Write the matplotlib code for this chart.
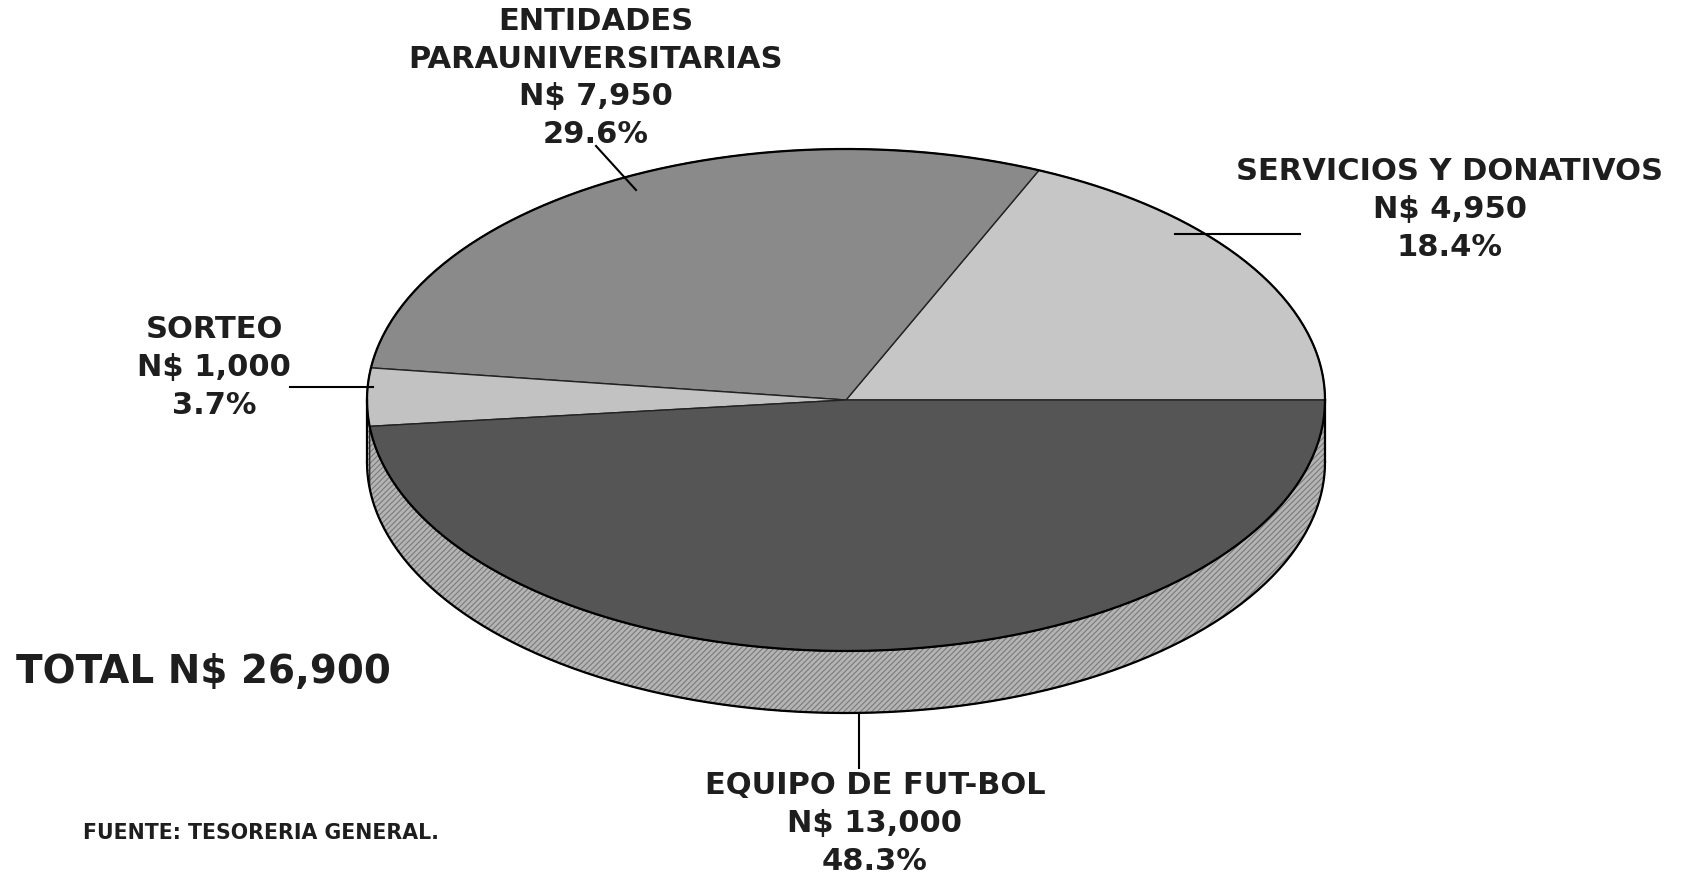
import numpy as np
import matplotlib
matplotlib.use("Agg")
import matplotlib.pyplot as plt
from matplotlib.patches import Polygon

# data
labels = ["SERVICIOS Y DONATIVOS", "ENTIDADES\nPARAUNIVERSITARIAS", "SORTEO", "EQUIPO DE FUT-BOL"]
amounts = [4950, 7950, 1000, 13000]
pcts = [18.4, 29.6, 3.7, 48.3]
total = 26900

top_colors = ["#c6c6c6", "#8a8a8a", "#c2c2c2", "#555555"]
side_colors = ["#b4b4b4", "#b4b4b4", "#c0c0c0", "#b4b4b4"]

plt.rcParams['font.family'] = ['DejaVu Sans']
plt.rcParams['hatch.linewidth'] = 0.8

fig = plt.figure(figsize=(17.06, 8.74), dpi=100)
ax = fig.add_axes([0, 0, 1, 1])
ax.set_xlim(0, 1706)
ax.set_ylim(874, 0)
ax.axis('off')

# pie geometry (pixel layout)
cx, cy, a, b, depth = 846, 400, 479, 251, 62

def pt(t, dy=0):
    r = np.radians(t)
    return cx + a * np.cos(r), cy - b * np.sin(r) + dy

fracs = np.array(amounts) / sum(amounts)
bounds = np.concatenate([[0], np.cumsum(fracs) * 360])

# side wall (front half only: 180..360 degrees)
for i in range(len(amounts)):
    t0, t1 = max(bounds[i], 180), min(bounds[i + 1], 360)
    if t1 <= t0:
        continue
    ts = np.linspace(t0, t1, 100)
    upper = [pt(t) for t in ts]
    lower = [pt(t, depth) for t in ts[::-1]]
    ax.add_patch(Polygon(upper + lower, closed=True, facecolor=side_colors[i],
                         edgecolor='#7a7a7a', lw=0, hatch='//////', zorder=1))
    ax.add_patch(Polygon(upper + lower, closed=True, facecolor='none',
                         edgecolor='#2a2a2a', lw=0.8, zorder=1.5))

# top face
for i in range(len(amounts)):
    ts = np.linspace(bounds[i], bounds[i + 1], 200)
    verts = [(cx, cy)] + [pt(t) for t in ts]
    ax.add_patch(Polygon(verts, closed=True, facecolor=top_colors[i],
                         edgecolor='#222222', lw=1.0, zorder=2))

# outline
ts = np.linspace(0, 360, 400)
xs, ys = zip(*[pt(t) for t in ts])
ax.plot(xs, ys, color='black', lw=1.6, zorder=3)
ts = np.linspace(180, 360, 200)
xs, ys = zip(*[pt(t, depth) for t in ts])
ax.plot(xs, ys, color='black', lw=1.6, zorder=3)
ax.plot([cx - a, cx - a], [cy, cy + depth], color='black', lw=1.6, zorder=3)
ax.plot([cx + a, cx + a], [cy, cy + depth], color='black', lw=1.6, zorder=3)

# leader lines
leaders = [((1175, 234), (1300, 234)),
           ((636, 190), (596, 146)),
           ((373, 387), (290, 387)),
           ((859, 713), (859, 768))]
for (x0, y0), (x1, y1) in leaders:
    ax.plot([x0, x1], [y0, y1], color='black', lw=1.5, zorder=4)

# labels
lab_pos = [(1450, 172), (596, 22), (214, 330), (875, 786)]
fs = 22
for i, (x, y) in enumerate(lab_pos):
    lines = labels[i].split("\n") + ["N$ {:,}".format(amounts[i]), "{:.1f}%".format(pcts[i])]
    for k, s in enumerate(lines):
        ax.text(x, y + k * 37.5, s, ha='center', va='center', fontsize=fs,
                fontweight='bold', color='#1e1e1e', zorder=5)

ax.text(16, 672, "TOTAL N$ {:,}".format(total), ha='left', va='center',
        fontsize=28, fontweight='bold', color='#1e1e1e')
ax.text(83, 833, "FUENTE: TESORERIA GENERAL.", ha='left', va='center',
        fontsize=14.8, fontweight='bold', color='#1e1e1e')

fig.savefig("out.png", dpi=100)
